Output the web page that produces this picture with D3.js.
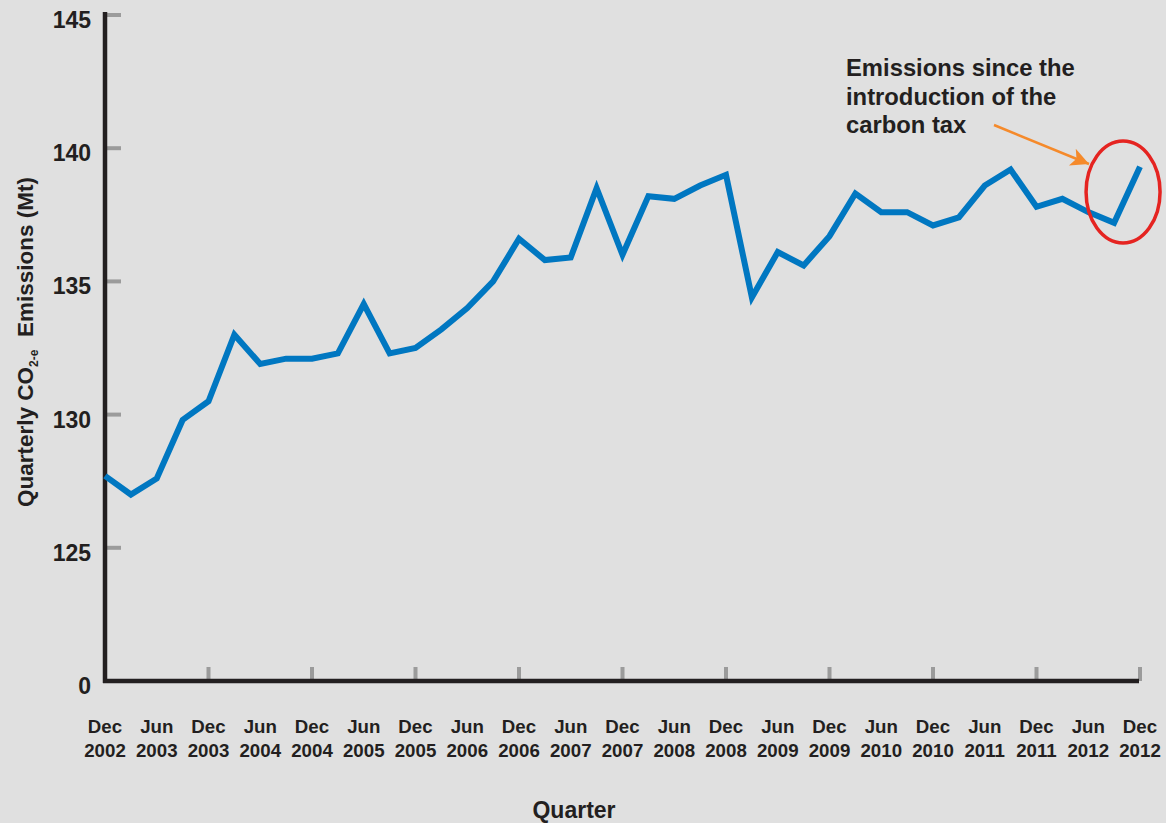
<!DOCTYPE html>
<html>
<head>
<meta charset="utf-8">
<script src="https://cdn.jsdelivr.net/npm/d3@7"></script>
<style>
  html, body { margin: 0; padding: 0; background: #e0e0e0; }
  svg { display: block; font-family: "Liberation Sans", Arial, sans-serif; font-weight: bold; }
</style>
</head>
<body>
<svg id="chart" width="1166" height="823"></svg>
<script>
// Quarterly CO2-e emissions (Mt), Dec 2002 – Dec 2012
const quarters = [
  "Dec 2002","Mar 2003","Jun 2003","Sep 2003","Dec 2003","Mar 2004","Jun 2004","Sep 2004",
  "Dec 2004","Mar 2005","Jun 2005","Sep 2005","Dec 2005","Mar 2006","Jun 2006","Sep 2006",
  "Dec 2006","Mar 2007","Jun 2007","Sep 2007","Dec 2007","Mar 2008","Jun 2008","Sep 2008",
  "Dec 2008","Mar 2009","Jun 2009","Sep 2009","Dec 2009","Mar 2010","Jun 2010","Sep 2010",
  "Dec 2010","Mar 2011","Jun 2011","Sep 2011","Dec 2011","Mar 2012","Jun 2012","Sep 2012",
  "Dec 2012"
];
const emissions = [
  127.7, 127.0, 127.6, 129.8, 130.5, 133.0, 131.9, 132.1,
  132.1, 132.3, 134.15, 132.3, 132.5, 133.2, 134.0, 135.0,
  136.6, 135.8, 135.9, 138.5, 136.0, 138.2, 138.1, 138.6,
  139.0, 134.4, 136.1, 135.6, 136.7, 138.3, 137.6, 137.6,
  137.1, 137.4, 138.6, 139.2, 137.8, 138.1, 137.6, 137.2,
  139.3
];
// Broken value axis: the bottom tick stands for zero
const yTickValues = [120, 125, 130, 135, 140, 145];
const yTickLabels = ["0", "125", "130", "135", "140", "145"];
const labelledQuarters = quarters.filter(q => q.startsWith("Dec") || q.startsWith("Jun"));
const tickedQuarters = quarters.filter((q, i) => q.startsWith("Dec") && i > 0);
const annotationLines = ["Emissions since the", "introduction of the", "carbon tax"];

const svg = d3.select("#chart");
const x = d3.scalePoint().domain(quarters).range([105, 1140]);
const y = d3.scaleLinear().domain([120, 145]).range([681, 15]);

const axisColor = "#231f20";
const tickColor = "#9b9b9b";

// y ticks (gray stubs to the right of the axis)
svg.append("g")
  .selectAll("line")
  .data(yTickValues.filter(v => v !== 120))
  .join("line")
  .attr("x1", 106).attr("x2", 121)
  .attr("y1", d => y(d)).attr("y2", d => y(d))
  .attr("stroke", tickColor).attr("stroke-width", 4);

// y tick labels
svg.append("g")
  .selectAll("text")
  .data(yTickValues)
  .join("text")
  .attr("x", 91)
  .attr("y", d => y(d) + 5)
  .attr("dy", "0.35em")
  .attr("text-anchor", "end")
  .attr("font-size", 23)
  .attr("fill", axisColor)
  .text((d, i) => yTickLabels[i]);

// x ticks (gray stubs above the axis, one per December)
svg.append("g")
  .selectAll("line")
  .data(tickedQuarters)
  .join("line")
  .attr("x1", d => x(d)).attr("x2", d => x(d))
  .attr("y1", 667).attr("y2", 681)
  .attr("stroke", tickColor).attr("stroke-width", 4);

// axes
svg.append("line")
  .attr("x1", 105).attr("x2", 105).attr("y1", 12).attr("y2", 683)
  .attr("stroke", axisColor).attr("stroke-width", 4.5);
svg.append("line")
  .attr("x1", 103).attr("x2", 1139).attr("y1", 681).attr("y2", 681)
  .attr("stroke", axisColor).attr("stroke-width", 4.5);

// x tick labels (two lines: month, year)
const xl = svg.append("g")
  .selectAll("text")
  .data(labelledQuarters)
  .join("text")
  .attr("text-anchor", "middle")
  .attr("font-size", 18.7)
  .attr("fill", axisColor);
xl.append("tspan").attr("x", d => x(d)).attr("y", 733).text(d => d.split(" ")[0]);
xl.append("tspan").attr("x", d => x(d)).attr("y", 757).text(d => d.split(" ")[1]);

// axis titles
svg.append("text")
  .attr("x", 574).attr("y", 818)
  .attr("text-anchor", "middle")
  .attr("font-size", 23)
  .attr("fill", axisColor)
  .text("Quarter");

const yTitle = svg.append("text")
  .attr("transform", "translate(33,342) rotate(-90)")
  .attr("text-anchor", "middle")
  .attr("font-size", 22.5)
  .attr("fill", axisColor);
yTitle.append("tspan").text("Quarterly CO");
yTitle.append("tspan").attr("font-size", 12).attr("dy", 5).text("2-e");
yTitle.append("tspan").attr("dy", -5).text("\u00a0 Emissions (Mt)");

// emissions line
const line = d3.line()
  .x((d, i) => x(quarters[i]))
  .y(d => y(d));
svg.append("path")
  .datum(emissions)
  .attr("d", line)
  .attr("fill", "none")
  .attr("stroke", "#0077c1")
  .attr("stroke-width", 6)
  .attr("stroke-linejoin", "miter");

// annotation: circled last quarter and arrow
const lastQ = quarters[quarters.length - 1];
const prevQ = quarters[quarters.length - 2];
svg.append("ellipse")
  .attr("cx", (x(lastQ) + x(prevQ)) / 2 - 4)
  .attr("cy", 192)
  .attr("rx", 37).attr("ry", 51)
  .attr("fill", "none")
  .attr("stroke", "#e52421")
  .attr("stroke-width", 3.5);

svg.append("defs").append("marker")
  .attr("id", "arrowhead")
  .attr("viewBox", "0 0 10 10")
  .attr("refX", 10).attr("refY", 5)
  .attr("markerUnits", "userSpaceOnUse")
  .attr("markerWidth", 28).attr("markerHeight", 18)
  .attr("orient", "auto")
  .append("path")
  .attr("d", "M0,0 L10,5 L0,10 L2.5,5 Z")
  .attr("fill", "#f58a2b");

svg.append("line")
  .attr("x1", 994).attr("y1", 125)
  .attr("x2", 1089).attr("y2", 164)
  .attr("stroke", "#f58a2b")
  .attr("stroke-width", 2.5)
  .attr("marker-end", "url(#arrowhead)");

svg.append("g")
  .selectAll("text")
  .data(annotationLines)
  .join("text")
  .attr("x", 846)
  .attr("y", (d, i) => 76 + i * 28.5)
  .attr("font-size", 23.8)
  .attr("fill", axisColor)
  .text(d => d);
</script>
</body>
</html>
